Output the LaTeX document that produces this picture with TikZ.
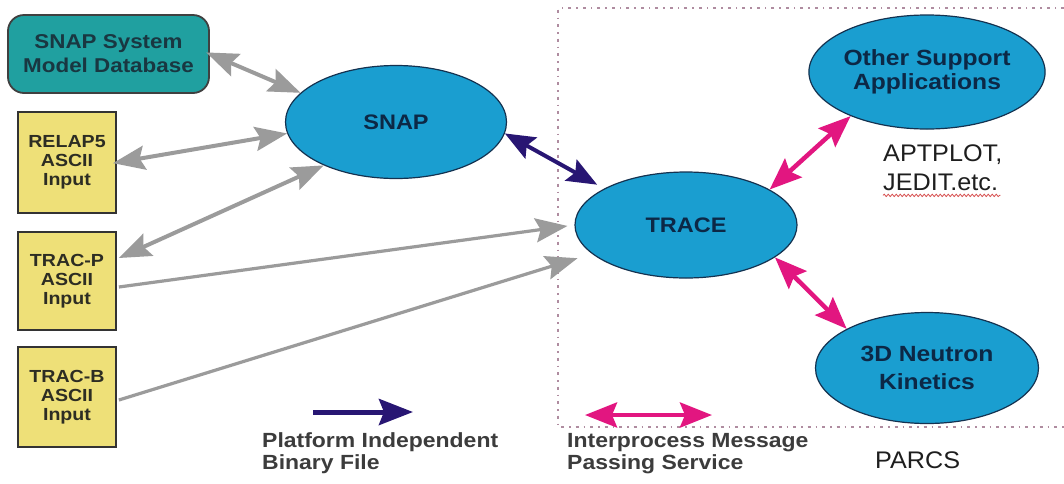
\documentclass[tikz,border=0pt]{standalone}
\usepackage{fontspec}
\setmainfont{Liberation Sans}
\newfontfamily\wide[FakeStretch=1.12]{Liberation Sans}
\newfontfamily\plainwide[FakeStretch=1.05]{Liberation Sans}
\usetikzlibrary{arrows.meta,shapes.geometric,decorations.pathmorphing}
\definecolor{ellfill}{RGB}{26,158,208}
\definecolor{elltext}{RGB}{12,40,70}
\definecolor{ellline}{RGB}{20,50,80}
\definecolor{tealfill}{RGB}{32,160,160}
\definecolor{tealtext}{RGB}{25,55,65}
\definecolor{yellowfill}{RGB}{238,224,120}
\definecolor{boxtext}{RGB}{45,45,35}
\definecolor{arrgray}{RGB}{155,155,155}
\definecolor{arrnavy}{RGB}{40,22,115}
\definecolor{arrpink}{RGB}{226,22,128}
\definecolor{framecol}{RGB}{175,140,160}
\definecolor{legtext}{RGB}{60,60,60}
\definecolor{plaintext}{RGB}{30,30,30}
\definecolor{wavy}{RGB}{215,80,80}
\tikzset{
  ell/.style={ellipse, draw=ellline, line width=1.2pt, fill=ellfill, inner sep=0pt,
    text=elltext, align=center, font=\wide\bfseries\fontsize{21}{24}\selectfont},
  ybox/.style={rectangle, draw=black!80, line width=1.8pt, fill=yellowfill, inner sep=0pt,
    text=boxtext, align=center, font=\wide\bfseries\fontsize{17.5}{19}\selectfont,
    minimum width=98pt},
  dbox/.style={rectangle, rounded corners=16pt, draw=black!75, line width=1.8pt, fill=tealfill,
    inner sep=0pt, text=tealtext, align=center, font=\wide\bfseries\fontsize{20}{24}\selectfont},
  bighead/.tip={Stealth[length=32pt,width=24pt,inset=5pt]},
  garrow/.style={draw=arrgray, line width=4pt, bighead-bighead},
  garrowone/.style={draw=arrgray, line width=3.2pt, -bighead},
  narrow/.style={draw=arrnavy, line width=4pt, {Stealth[length=30pt,width=24pt,inset=5pt]}-{Stealth[length=30pt,width=24pt,inset=5pt]}},
  parrow/.style={draw=arrpink, line width=4.5pt, {Stealth[length=32pt,width=25pt,inset=5pt]}-{Stealth[length=32pt,width=25pt,inset=5pt]}},
  legend/.style={inner sep=0pt, anchor=north west, align=left, text=legtext,
    font=\wide\bfseries\fontsize{20.5}{22}\selectfont},
  plain/.style={inner sep=0pt, anchor=north west, align=left, text=plaintext,
    font=\plainwide\fontsize{24}{29}\selectfont}
}
\begin{document}
\begin{tikzpicture}[x=1pt,y=-1pt]
\useasboundingbox[fill=white] (0,0) rectangle (1064,483);

% dotted frame
\draw[framecol, line width=1.3pt, dash pattern=on 3pt off 5pt on 1.5pt off 5pt]
  (1064,8) -- (558,8) -- (558,427) -- (1064,427);

% nodes
\node[dbox, minimum width=201pt, minimum height=78pt] (db) at (108.5,54) {SNAP System\\Model Database};
\node[ybox, minimum height=101pt] (relap) at (67,162.5) {RELAP5\\ASCII\\Input};
\node[ybox, minimum height=98pt] (tracp) at (67,281) {TRAC-P\\ASCII\\Input};
\node[ybox, minimum height=100pt] (tracb) at (67,397) {TRAC-B\\ASCII\\Input};

\node[ell, minimum width=221pt, minimum height=113pt] (snap) at (396,122) {SNAP};
\node[ell, minimum width=222pt, minimum height=106pt] (trace) at (686,225) {TRACE};
\node[ell, minimum width=223pt, minimum height=114pt, font=\wide\bfseries\fontsize{22}{23.5}\selectfont] (other) at (927,72) {Other Support\\Applications};
\node[ell, minimum width=223pt, minimum height=111pt, font=\wide\bfseries\fontsize{22}{28}\selectfont] (nk) at (927,368) {3D Neutron\\Kinetics};

% connectors
\draw[garrow, shorten <=-4pt] (db.east) -- (snap.163);
\draw[garrow, shorten <=-4pt] (relap.east) -- (snap.186);
\draw[garrow] ([yshift=23pt,xshift=2pt]tracp.east) -- (snap.211);
\draw[garrowone, shorten >=7pt] ([yshift=-6pt,xshift=2pt]tracp.east) -- (trace.west);
\draw[garrowone, shorten >=15pt] ([yshift=-3pt,xshift=2pt]tracb.east) -- (trace.197);
\draw[narrow, shorten >=8pt] (snap.354) -- (trace.156);
\draw[parrow] (trace.23) -- (other.210);
\draw[parrow] (trace.340) -- (nk.154);

% legend
\coordinate (nvA) at (313,412);
\coordinate (nvB) at (413,412);
\draw[draw=arrnavy, line width=5pt, -{Stealth[length=34pt,width=26pt,inset=5pt]}] (nvA) -- (nvB);
\coordinate (pkA) at (585,415);
\coordinate (pkB) at (712,415);
\draw[parrow] (pkA) -- (pkB);

\node[legend] (leg1) at (262,432) {Platform Independent\\Binary File};
\node[legend] (leg2) at (567,433) {Interprocess Message\\Passing Service};

% plain labels
\node[plain] (apt) at (883,145) {APTPLOT,\\JEDIT.etc.};
\draw[wavy, line width=0.8pt, decorate, decoration={snake, amplitude=1.2pt, segment length=4pt}]
  ([yshift=-4pt]apt.south west) -- ([yshift=-4pt,xshift=-2pt]apt.south east);
\node[plain] (parcs) at (875,452) {PARCS};
\end{tikzpicture}
\end{document}
